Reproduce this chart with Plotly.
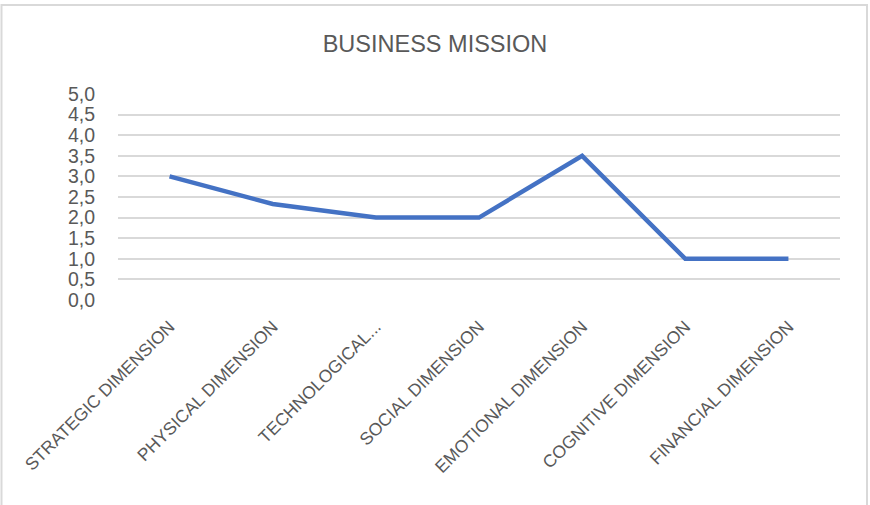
import plotly.graph_objects as go

categories = [
    "STRATEGIC DIMENSION",
    "PHYSICAL DIMENSION",
    "TECHNOLOGICAL...",
    "SOCIAL DIMENSION",
    "EMOTIONAL DIMENSION",
    "COGNITIVE DIMENSION",
    "FINANCIAL DIMENSION",
]
scores = [3.0, 2.33, 2.0, 2.0, 3.5, 1.0, 1.0]
y_ticks = [0, 0.5, 1.0, 1.5, 2.0, 2.5, 3.0, 3.5, 4.0, 4.5, 5.0]

FONT = "Liberation Sans Narrow, Arial Narrow, Liberation Sans, sans-serif"
TEXT_COLOR = "#595959"
GRID = "#d9d9d9"

W, H = 870, 505
L, R, T, B = 118, 30, 94, 205

fig = go.Figure(
    go.Scatter(
        x=categories,
        y=scores,
        mode="lines",
        line=dict(color="#4472c4", width=4.5),
        hoverinfo="x+y",
    )
)

# outer chart frame, positioned in pixels from the plot-area corner
fig.add_shape(
    type="rect",
    xref="paper", yref="paper",
    xsizemode="pixel", ysizemode="pixel",
    xanchor=0, yanchor=0,
    x0=1.5 - L, x1=867 - L,
    y0=-(H - B) - 20 + (H - B) - B, y1=(H - B) - 5,
    line=dict(color=GRID, width=2),
    fillcolor="rgba(0,0,0,0)",
    layer="below",
)

fig.update_layout(
    width=W, height=H,
    margin=dict(l=L, r=R, t=T, b=B, autoexpand=False),
    paper_bgcolor="white",
    plot_bgcolor="white",
    separators=",.",
    showlegend=False,
    font=dict(family=FONT, color=TEXT_COLOR),
    title=dict(
        text="BUSINESS MISSION",
        x=0.5, xref="container",
        y=1 - 44 / H, yanchor="middle",
        font=dict(family=FONT, size=23.5, color=TEXT_COLOR),
    ),
    xaxis=dict(
        type="category",
        range=[-0.5, len(categories) - 0.5],
        tickangle=-45,
        tickfont=dict(family=FONT, size=17.5, color=TEXT_COLOR),
        showgrid=False,
        showline=False,
        zeroline=False,
        ticks="",
        automargin=False,
        ticklabelstandoff=12,
    ),
    yaxis=dict(
        range=[0, 5.0],
        tickvals=y_ticks,
        tickformat=".1f",
        tickfont=dict(family=FONT, size=19.5, color=TEXT_COLOR),
        showgrid=True,
        gridcolor=GRID,
        gridwidth=1.5,
        zeroline=False,
        showline=False,
        ticks="",
        automargin=False,
        ticklabelstandoff=22,
    ),
)

fig.write_html("out.html")
